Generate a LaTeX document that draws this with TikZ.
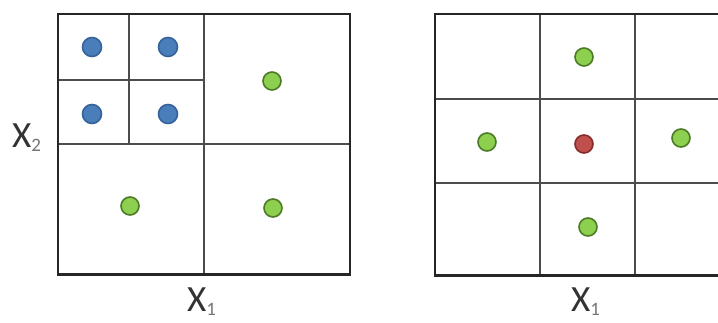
\documentclass[tikz,border=0pt]{standalone}
\usepackage{fontspec}
\setmainfont{Carlito}
\usepackage{xcolor}
\usetikzlibrary{positioning}

\definecolor{ptblue}{HTML}{4A7EBB}
\definecolor{ptblueedge}{HTML}{35639A}
\definecolor{ptgreen}{HTML}{8DD04F}
\definecolor{ptgreenedge}{HTML}{4C7A26}
\definecolor{ptred}{HTML}{C0504D}
\definecolor{ptrededge}{HTML}{862B29}

\newcommand{\sublabel}[2]{#1\raisebox{-4pt}{\fontsize{19}{19}\selectfont\color{black!55}#2}}

\begin{document}
\begin{tikzpicture}[
    x=1pt, y=-1pt,
    dot/.style={circle, line width=1.6pt, minimum size=18pt, inner sep=0pt},
    bluept/.style={dot, minimum size=19pt, fill=ptblue, draw=ptblueedge},
    greenpt/.style={dot, fill=ptgreen, draw=ptgreenedge},
    redpt/.style={dot, fill=ptred, draw=ptrededge},
    cell/.style={line width=1.5pt, draw=black!70},
    frame/.style={line width=2.2pt, draw=black!85},
    axisline/.style={line width=3pt, draw=black!85},
    axislabel/.style={anchor=base west, inner sep=0pt, font=\fontsize{37}{40}\selectfont, text=black!80},
]
\useasboundingbox (0,0) rectangle (718,323);
\clip (0,0) rectangle (718,323);

% left panel: split cells
\draw[cell] (204,14) -- (204,275);
\draw[cell] (58,144) -- (350,144);
\draw[cell] (129,14) -- (129,144);
\draw[cell] (58,80) -- (204,80);
\draw[frame] (58,275) -- (58,14) -- (350,14) -- (350,275);
\draw[axisline] (57,275) -- (351,275);

\node[bluept] (b1) at (92,47) {};
\node[bluept] (b2) at (168,47) {};
\node[bluept] (b3) at (92,114) {};
\node[bluept] (b4) at (168,114) {};
\node[greenpt] (g1) at (272,81) {};
\node[greenpt] (g2) at (130,206) {};
\node[greenpt] (g3) at (273,208) {};

\node[axislabel] (xa) at (187,312) {\sublabel{X}{1}};
\node[axislabel] (xb) at (12,148) {\sublabel{X}{2}};

% right panel: regular grid
\draw[cell] (540,14) -- (540,276);
\draw[cell] (635,14) -- (635,276);
\draw[cell] (435,99) -- (740,99);
\draw[cell] (435,183) -- (740,183);
\draw[frame] (435,276) -- (435,14) -- (740,14);
\draw[axisline] (434,276) -- (740,276);

\node[greenpt] (n1) at (584,57) {};
\node[greenpt] (n2) at (487,142) {};
\node[redpt] (q) at (584,144) {};
\node[greenpt] (n3) at (681,138) {};
\node[greenpt] (n4) at (588,227) {};

\node[axislabel] (xc) at (571,312) {\sublabel{X}{1}};
\end{tikzpicture}
\end{document}
